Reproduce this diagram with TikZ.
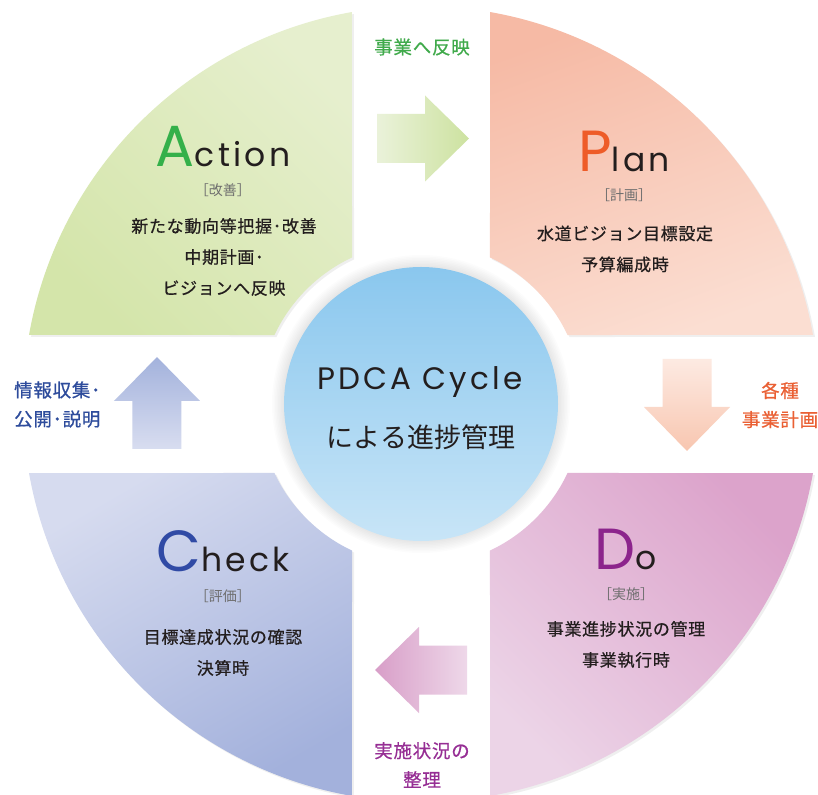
\documentclass[tikz,border=0pt]{standalone}
\usepackage{fontspec}
\setmainfont{Noto Sans CJK JP}
\newfontfamily\jpmed{Noto Sans CJK JP}[FakeBold=0.6,LetterSpace=4]
\newfontfamily\geo{Poppins}[LetterSpace=10]
\usetikzlibrary{shadows}

\definecolor{ink}{RGB}{35,30,30}
\definecolor{tagcol}{RGB}{110,110,110}
% ring quarters
\definecolor{actA}{RGB}{230,239,206}
\definecolor{actB}{RGB}{212,229,170}
\definecolor{planA}{RGB}{246,186,165}
\definecolor{planB}{RGB}{251,222,210}
\definecolor{doA}{RGB}{220,163,203}
\definecolor{doB}{RGB}{236,212,231}
\definecolor{chkA}{RGB}{214,219,239}
\definecolor{chkB}{RGB}{163,177,220}
\definecolor{hubA}{RGB}{138,199,238}
\definecolor{hubB}{RGB}{200,229,247}
% block arrows
\definecolor{grnT}{RGB}{234,242,218}
\definecolor{grnH}{RGB}{205,226,160}
\definecolor{orgT}{RGB}{253,234,226}
\definecolor{orgH}{RGB}{248,198,176}
\definecolor{pnkT}{RGB}{238,216,233}
\definecolor{pnkH}{RGB}{216,158,200}
\definecolor{bluT}{RGB}{216,221,240}
\definecolor{bluH}{RGB}{163,178,220}
% letters and side texts
\definecolor{letA}{RGB}{52,176,74}
\definecolor{letP}{RGB}{238,92,40}
\definecolor{letC}{RGB}{48,74,165}
\definecolor{letD}{RGB}{140,36,140}
\definecolor{labA}{RGB}{64,170,75}
\definecolor{labP}{RGB}{234,96,52}
\definecolor{labD}{RGB}{150,46,148}
\definecolor{labC}{RGB}{46,76,156}

\tikzset{
  sector/.style={drop shadow={shadow xshift=2pt,shadow yshift=-2pt,opacity=0.12}},
  titletext/.style={anchor=base,inner sep=0pt,text depth=0pt,font=\geo,text=ink},
  tagtext/.style={inner sep=0pt,text=tagcol,font=\fontsize{14}{14}\selectfont},
  bodytext/.style={inner sep=0pt,align=center,text=ink,font=\jpmed\fontsize{17}{31}\selectfont},
  sidetext/.style={inner sep=0pt,align=center,font=\jpmed\fontsize{18.5}{29}\selectfont}
}

\begin{document}
\begin{tikzpicture}[x=1pt,y=1pt]
\path[use as bounding box,fill=white] (-421,-390) rectangle (397,404);

% the four quarters of the ring
\foreach \b/\ca/\cb/\s in {90/actA/actB/-45,0/planA/planB/20,270/doA/doB/-45,180/chkA/chkB/30}
  \shade[sector,top color=\ca,bottom color=\cb,shading angle=\s]
    (\b+10:398) -- (\b+25.2:162) arc[start angle=\b+25.2,end angle=\b+64.8,radius=162]
    -- (\b+80:398) arc[start angle=\b+80,end angle=\b+10,radius=398] -- cycle;

% block arrows between the quarters
\foreach \a/\x/\y/\s/\ct/\ch in {0/1/265.5/-90/grnT/grnH,-90/266/0/180/orgT/orgH,180/1/-266/90/pnkT/pnkH,90/-264/0/0/bluT/bluH}
  \shade[top color=\ch,bottom color=\ct,shading angle=\s,shift={(\x,\y)},rotate=\a]
    (-45,24.5) -- (3,24.5) -- (3,43) -- (47,0) -- (3,-43) -- (3,-24.5) -- (-45,-24.5) -- cycle;

% centre disc with a soft halo
\foreach \i in {1,...,8} \fill[black,opacity=0.012] (0,0) circle (137+1.5*\i);
\shade[top color=hubA,bottom color=hubB] (0,0) circle (137);
\node[titletext,font=\geo\fontsize{31}{31}\selectfont] (hub-top) at (-1,14) {PDCA Cycle};
\node[inner sep=0pt,text=ink,font=\fontsize{27}{27}\selectfont] (hub-bot) at (0,-33) {による進捗管理};

% Action
\node[titletext] (act-title) at (-198,237) {{\fontsize{58}{58}\selectfont\color{letA}A}{\fontsize{33}{33}\selectfont ction}};
\node[tagtext] (act-tag) at (-198,214) {［改善］};
\node[bodytext] (act-body) at (-197,147) {新たな動向等把握･改善\\中期計画･\\ビジョンへ反映};

% Plan
\node[titletext] (plan-title) at (203,232) {{\fontsize{58}{58}\selectfont\color{letP}P}{\fontsize{33}{33}\selectfont lan}};
\node[tagtext] (plan-tag) at (203,209) {［計画］};
\node[bodytext] (plan-body) at (204,155) {水道ビジョン目標設定\\予算編成時};

% Do
\node[titletext] (do-title) at (205,-165) {{\fontsize{58}{58}\selectfont\color{letD}D}{\fontsize{33}{33}\selectfont o}};
\node[tagtext] (do-tag) at (205,-190) {［実施］};
\node[bodytext] (do-body) at (205,-240.5) {事業進捗状況の管理\\事業執行時};

% Check
\node[titletext] (chk-title) at (-198,-167) {{\fontsize{58}{58}\selectfont\color{letC}C}{\fontsize{33}{33}\selectfont heck}};
\node[tagtext] (chk-tag) at (-198,-192) {［評価］};
\node[bodytext] (chk-body) at (-198,-248.5) {目標達成状況の確認\\決算時};

% texts beside the arrows
\node[sidetext,text=labA] (to-plan) at (1,357) {事業へ反映};
\node[sidetext,text=labP] (to-do) at (359,-1) {各種\\事業計画};
\node[sidetext,text=labD] (to-check) at (1,-361) {実施状況の\\整理};
\node[sidetext,text=labC,align=left,anchor=west] (to-act) at (-407,-0.5) {情報収集･\\公開･説明};
\end{tikzpicture}
\end{document}
